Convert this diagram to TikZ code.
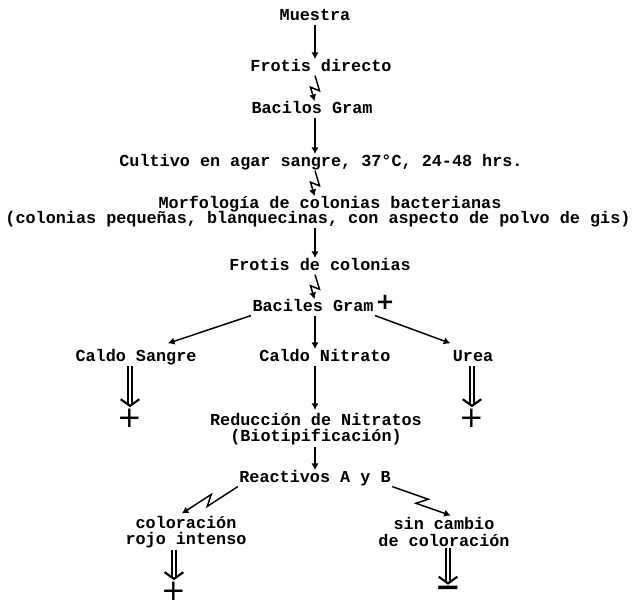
\documentclass[tikz,border=0pt]{standalone}
\usepackage{fontspec}
\setmainfont{Liberation Mono}
\newfontfamily\signfont{DejaVu Sans}
\usepackage{tikz}
\usetikzlibrary{calc,arrows.meta}
\newcommand\txtsz{\bfseries\fontsize{12.6pt}{12pt}\selectfont}
\newcommand\txtszm{\bfseries\fontsize{12.6pt}{12.4pt}\selectfont}
\newcommand\sgnsz{\signfont\fontsize{22pt}{22pt}\selectfont}
\newcommand\gsz{\signfont\bfseries\fontsize{17pt}{17pt}\selectfont}
\newcommand\msz{\signfont\bfseries\fontsize{23pt}{23pt}\selectfont}
\tikzset{
  txt/.style={font=\txtsz, inner sep=1pt, text height=7pt, text depth=2pt},
  txtm/.style={font=\txtszm, inner sep=1pt, align=center},
  arr/.style={line width=1.1pt, shorten >=1pt, -{Latex[length=5pt,width=5.5pt]}},
  zig/.style={arr, to path={-- ($(\tikztostart)!0.57!(\tikztotarget)!3.4pt!90:(\tikztotarget)$) -- ($(\tikztostart)!0.43!(\tikztotarget)!3.4pt!-90:(\tikztotarget)$) -- (\tikztotarget) \tikztonodes}},
  dbl/.style={double, double distance=1.8pt, line width=1.2pt, shorten >=1pt, -{Straight Barb[length=5pt,width=14pt,line width=1.6pt]}},
  sgn/.style={inner sep=0pt, font=\sgnsz},
  gsgn/.style={inner sep=0pt, font=\gsz},
}

\begin{document}
\begin{tikzpicture}[x=0.75pt,y=-0.75pt]
  \useasboundingbox (0,0) rectangle (639,606);
  \coordinate (col) at (315,0);
  % main column
  \node[txt] (muestra) at (315,17) {Muestra};
  \node[txt] (frotis) at (321,68) {Frotis directo};
  \node[txt] (bacilos) at (312,110) {Bacilos Gram};
  \node[txt] (cultivo) at (321,163) {Cultivo en agar sangre, 37°C, 24-48 hrs.};
  \node[txt] (morf) at (330,205) {Morfología de colonias bacterianas};
  \node[txt] (morfnote) at (318,220) {(colonias pequeñas, blanquecinas, con aspecto de polvo de gis)};
  \node[txt] (frotiscol) at (320,267) {Frotis de colonias};
  \node[txt] (baciles) at (313,308) {Baciles Gram};
  \node[gsgn] (gplus) at (385,302) {+};
  % three media
  \node[txt] (csangre) at (136,358) {Caldo Sangre};
  \node[txt] (cnitrato) at (325,358) {Caldo Nitrato};
  \node[txt] (urea) at (473,358) {Urea};
  \node[sgn] (pa) at (130,418) {+};
  \node[sgn] (pb) at (472,418) {+};
  \node[txtm] (reduc) at (316,429) {Reducción de Nitratos\\(Biotipificación)};
  \node[txt] (reactivos) at (315,479) {Reactivos A y B};
  \node[txtm] (rojo) at (186,532) {coloración\\rojo intenso};
  \node[txtm] (sincambio) at (444,532) {sin cambio\\de coloración};
  \node[sgn] (pc) at (174,591) {+};
  \node[inner sep=0pt, font=\msz] (minus) at (448,592) {−};

  \draw[arr] (muestra.south -| col) -- (frotis.north -| col);
  \draw[zig] (frotis.south -| col) to (bacilos.north -| col);
  \draw[arr] (bacilos.south -| col) -- (cultivo.north -| col);
  \draw[zig] (cultivo.south -| col) to (morf.north -| col);
  \draw[arr] (morfnote.south -| col) -- (frotiscol.north -| col);
  \draw[zig] (frotiscol.south -| col) to (baciles.north -| col);
  \draw[arr] (baciles.south west) -- ([xshift=23pt,yshift=5pt]csangre.north);
  \draw[arr] (baciles.south -| col) -- (cnitrato.north -| col);
  \draw[arr] (baciles.south east) -- ([xshift=-16pt,yshift=5pt]urea.north);
  \draw[dbl] (csangre.south -| pa.north) -- (pa.north);
  \draw[dbl] (urea.south -| pb.north) -- (pb.north);
  \draw[arr] (cnitrato.south -| col) -- (reduc.north -| col);
  \draw[arr] (reduc.south -| col) -- (reactivos.north -| col);
  \draw[zig] (reactivos.south west) to ([xshift=-4pt]rojo.north);
  \draw[zig] (reactivos.south east) to ([xshift=6pt]sincambio.north);
  \draw[dbl] (rojo.south -| pc.north) -- (pc.north);
  \draw[dbl] (sincambio.south -| minus.north) -- (minus.north);
\end{tikzpicture}
\end{document}
